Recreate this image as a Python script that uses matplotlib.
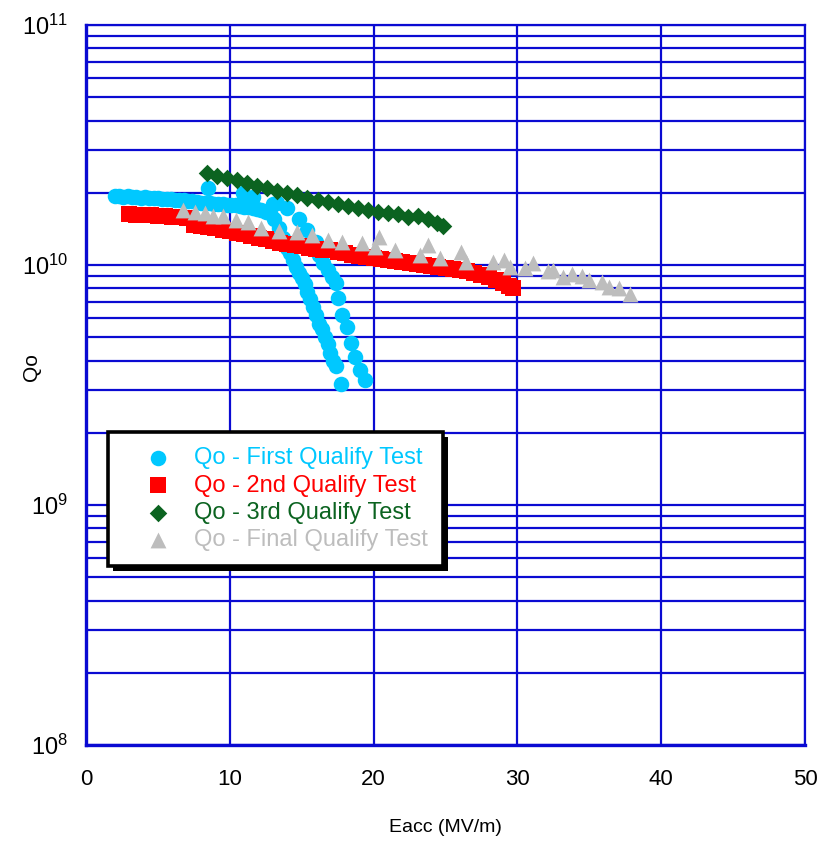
import numpy as np
import matplotlib
matplotlib.use("Agg")
import matplotlib.pyplot as plt
import matplotlib.font_manager as fm
from matplotlib.patches import Rectangle
from matplotlib.transforms import IdentityTransform
from matplotlib.ticker import FixedLocator, FixedFormatter, LogLocator, NullFormatter

# ---------------- data ----------------
first_x = [2.0, 2.3, 2.6, 2.9, 3.2, 3.5, 3.8, 4.1, 4.4, 4.7, 5.0, 5.3, 5.6, 5.9, 6.2, 6.5,
           6.8, 7.1, 7.4, 7.7, 8.0, 8.3, 8.6, 8.9, 9.2, 9.5, 9.8, 10.1, 10.4, 10.7, 11.0,
           11.3, 11.6, 11.9, 12.2, 12.5,
           12.8, 13.1, 13.4, 13.7, 14.0, 14.2, 14.4, 14.6, 14.8, 15.0, 15.2, 15.4, 15.6,
           15.8, 16.0, 16.2, 16.4, 16.6, 16.8, 17.0, 17.2, 17.4, 17.7,
           8.5, 10.9, 11.6, 13.0, 13.3, 14.0, 14.8, 15.4, 16.0, 16.2, 16.5, 16.8, 17.1,
           17.4, 17.5, 17.8, 18.15, 18.4, 18.7, 19.05, 19.4]
first_q = [1.93e10, 1.93e10, 1.92e10, 1.93e10, 1.92e10, 1.92e10, 1.91e10, 1.92e10, 1.91e10,
           1.90e10, 1.90e10, 1.89e10, 1.89e10, 1.88e10, 1.87e10, 1.86e10, 1.86e10, 1.85e10,
           1.84e10, 1.83e10, 1.82e10, 1.82e10, 1.81e10, 1.80e10, 1.80e10, 1.79e10, 1.78e10,
           1.78e10, 1.77e10, 1.76e10, 1.75e10, 1.74e10, 1.73e10, 1.71e10, 1.69e10, 1.67e10,
           1.65e10, 1.55e10, 1.42e10, 1.30e10, 1.18e10, 1.12e10, 1.05e10, 9.8e9, 9.3e9,
           8.8e9, 8.3e9, 7.7e9, 7.2e9, 6.7e9, 6.2e9, 5.7e9, 5.4e9, 5.0e9, 4.7e9, 4.3e9,
           4.0e9, 3.8e9, 3.2e9,
           2.09e10, 2.0e10, 1.92e10, 1.80e10, 1.81e10, 1.72e10, 1.56e10, 1.40e10, 1.25e10,
           1.10e10, 1.02e10, 9.5e9, 8.9e9, 8.4e9, 7.3e9, 6.2e9, 5.5e9, 4.73e9, 4.14e9,
           3.65e9, 3.31e9]

second_x = [3.0, 3.5, 4.0, 4.5, 5.0, 5.5, 6.0, 6.5, 7.0, 7.5, 8.0, 8.5, 9.0, 9.5, 10.0,
            10.5, 11.0, 11.5, 12.0, 12.5, 13.0, 13.5, 14.0, 14.5, 15.0, 15.5, 16.0, 16.5,
            17.0, 17.5, 18.0, 18.5, 19.0, 19.5, 20.0, 20.5, 21.0, 21.5, 22.0, 22.5, 23.0,
            23.5, 24.0, 24.5, 25.0, 25.5, 26.0, 26.5, 27.0, 27.5, 28.0, 28.5, 29.0, 29.4,
            29.7]
second_q = [1.63e10, 1.62e10, 1.62e10, 1.61e10, 1.60e10, 1.60e10, 1.59e10, 1.58e10, 1.57e10,
            1.47e10, 1.46e10, 1.44e10, 1.42e10, 1.40e10, 1.38e10, 1.36e10, 1.34e10, 1.32e10,
            1.30e10, 1.28e10, 1.26e10, 1.24e10, 1.22e10, 1.21e10, 1.20e10, 1.18e10, 1.17e10,
            1.16e10, 1.15e10, 1.13e10, 1.12e10, 1.10e10, 1.09e10, 1.08e10, 1.07e10, 1.06e10,
            1.05e10, 1.04e10, 1.03e10, 1.02e10, 1.01e10, 1.00e10, 9.9e9, 9.8e9, 9.7e9, 9.6e9,
            9.5e9, 9.4e9, 9.3e9, 9.1e9, 8.9e9, 8.7e9, 8.4e9, 8.2e9, 8.0e9]

third_x = [8.4, 9.1, 9.8, 10.5, 11.2, 11.9, 12.6, 13.3, 14.0, 14.7, 15.4, 16.1, 16.8, 17.5,
           18.2, 18.9, 19.6, 20.3, 21.0, 21.7, 22.4, 23.1, 23.8, 24.4, 24.8]
third_q = [2.42e10, 2.36e10, 2.30e10, 2.25e10, 2.19e10, 2.14e10, 2.09e10, 2.04e10, 1.99e10,
           1.95e10, 1.91e10, 1.87e10, 1.83e10, 1.79e10, 1.76e10, 1.73e10, 1.70e10, 1.67e10,
           1.65e10, 1.63e10, 1.58e10, 1.60e10, 1.55e10, 1.50e10, 1.45e10]

final_x = [6.75, 7.6, 8.3, 8.8, 9.5, 10.4, 11.3, 12.2, 13.4, 14.7, 15.7, 16.8, 17.8, 19.2,
           20.1, 20.4, 21.5, 23.2, 23.8, 24.6, 26.1, 26.4, 28.3, 29.1, 29.5, 30.5, 31.1,
           32.1, 32.5, 33.2, 33.8, 34.5, 35.0, 35.9, 36.4, 37.1, 37.8]
final_q = [1.69e10, 1.66e10, 1.65e10, 1.60e10, 1.60e10, 1.54e10, 1.51e10, 1.42e10, 1.39e10,
           1.37e10, 1.33e10, 1.27e10, 1.25e10, 1.24e10, 1.19e10, 1.31e10, 1.155e10, 1.10e10,
           1.21e10, 1.07e10, 1.13e10, 1.03e10, 1.03e10, 1.05e10, 9.8e9, 9.7e9, 1.02e10,
           9.4e9, 9.5e9, 8.9e9, 9.2e9, 9.0e9, 8.7e9, 8.5e9, 8.1e9, 8.0e9, 7.6e9]

labels = ["Qo - First Qualify Test", "Qo - 2nd Qualify Test",
          "Qo - 3rd Qualify Test", "Qo - Final Qualify Test"]
x_ticks = [0, 10, 20, 30, 40, 50]
y_ticks = [1e8, 1e9, 1e10, 1e11]
y_tick_labels = [r"$\mathregular{10^{8}}$", r"$\mathregular{10^{9}}$",
                 r"$\mathregular{10^{10}}$", r"$\mathregular{10^{11}}$"]

# ---------------- style ----------------
names = {f.name for f in fm.fontManager.ttflist}
base = "Liberation Sans" if "Liberation Sans" in names else "DejaVu Sans"

plt.rcParams["font.family"] = [base, "DejaVu Sans"]
plt.rcParams["mathtext.default"] = "regular"

BLUE = "#0a0ad2"
CYAN = "#00c8ff"
RED = "#ff0000"
GREEN = "#0b6320"
GRAY = "#bdbdbd"

fig = plt.figure(figsize=(8.25, 8.42), dpi=100)
ax = fig.add_axes([86 / 825, 1 - 745 / 842, (805 - 86) / 825, (745 - 25) / 842])

ax.set_xlim(0, 50)
ax.set_yscale("log")
ax.set_ylim(1e8, 1e11)

ax.scatter(first_x, first_q, marker="o", s=125, color=CYAN, linewidths=0, zorder=3,
           label=labels[0])
ax.scatter(second_x, second_q, marker="s", s=125, color=RED, linewidths=0, zorder=3,
           label=labels[1])
ax.scatter(third_x, third_q, marker="D", s=80, color=GREEN, linewidths=0, zorder=4,
           label=labels[2])
ax.scatter(final_x, final_q, marker="^", s=130, color=GRAY, linewidths=0, zorder=4,
           label=labels[3])

# grid
ax.xaxis.set_major_locator(FixedLocator(x_ticks))
ax.yaxis.set_major_locator(FixedLocator(y_ticks))
ax.yaxis.set_major_formatter(FixedFormatter(y_tick_labels))
ax.yaxis.set_minor_locator(LogLocator(base=10, subs=np.arange(2, 10)))
ax.yaxis.set_minor_formatter(NullFormatter())
ax.grid(True, which="major", axis="both", color=BLUE, linewidth=1.6, zorder=1)
ax.grid(True, which="minor", axis="y", color=BLUE, linewidth=1.6, zorder=1)
ax.set_axisbelow(True)
for s in ax.spines.values():
    s.set_color(BLUE)
    s.set_linewidth(1.6)
ax.spines["left"].set_linewidth(2.4)
ax.spines["bottom"].set_linewidth(2.4)

ax.tick_params(which="both", length=0)
ax.tick_params(axis="y", pad=13, labelsize=17, labelcolor="black")
ax.tick_params(axis="x", pad=17, labelsize=16)
ax.set_xlabel("Eacc (MV/m)", fontsize=14, labelpad=21)
ax.set_ylabel("Qo", fontsize=15)
ax.yaxis.set_label_coords(-0.0626, 0.525)

leg = ax.legend(loc="upper left", bbox_to_anchor=((108 - 86) / 719, (745 - 432) / 720),
                fontsize=17, frameon=True, fancybox=False, edgecolor="black",
                framealpha=1, facecolor="white",
                borderpad=0.65, labelspacing=0.22, handlelength=2.9, handletextpad=0.1,
                borderaxespad=0, labelcolor=[CYAN, RED, GREEN, GRAY], scatterpoints=1)
leg.get_frame().set_linewidth(2.6)
leg.set_zorder(10)

fig.canvas.draw()
bb = leg.get_window_extent()
sh = Rectangle((bb.x0 + 5, bb.y0 - 5), bb.width, bb.height, transform=IdentityTransform(),
               facecolor="black", edgecolor="none", zorder=9, clip_on=False)
ax.add_artist(sh)

fig.savefig("out.png", dpi=100)
